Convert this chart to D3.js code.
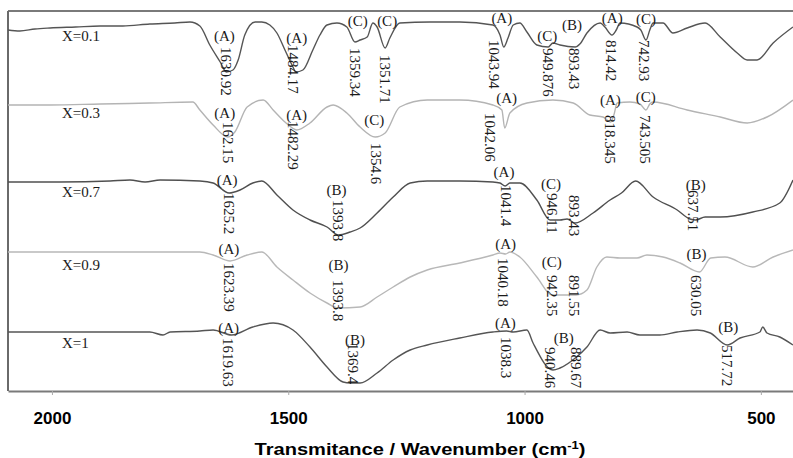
<!DOCTYPE html>
<html>
<head>
<meta charset="utf-8">
<script src="https://cdn.jsdelivr.net/npm/d3@7/dist/d3.min.js"></script>
<style>
  body { margin: 0; background: #fff; }
  svg { display: block; }
</style>
</head>
<body>
<svg id="chart" width="793" height="458"></svg>
<script>
// ---- FTIR spectra, stacked (wavenumber cm-1, transmittance a.u. incl. stacking offset) ----
const seriesNames = ["X=0.1", "X=0.3", "X=0.7", "X=0.9", "X=1"];

const spectrumX01 = [[2093,36.1],[2068,36.0],[2036,36.2],[2004,36.3],[1950,36.4],[1898,36.5],[1850,36.5],[1793,36.7],[1740,36.8],[1708,36.9],[1687,36.5],[1666,34.6],[1644,32.9],[1631,31.9],[1617,32.1],[1606,33.1],[1592,35.6],[1570,36.9],[1556,36.9],[1539,36.6],[1524,35.8],[1507,34.1],[1490,32.4],[1484,31.9],[1469,32.1],[1448,34.1],[1433,35.6],[1418,36.6],[1397,36.8],[1376,36.4],[1359,34.9],[1348,35.1],[1333,35.4],[1321,36.8],[1312,36.4],[1295,34.3],[1285,35.3],[1264,36.8],[1200,36.9],[1137,36.9],[1067,36.6],[1052,35.6],[1044,34.4],[1035,35.3],[1024,36.6],[1010,36.8],[995,35.9],[974,34.6],[950,34.4],[940,34.8],[925,34.6],[893,34.4],[883,34.7],[868,35.8],[840,36.8],[830,36.4],[815,35.6],[806,36.1],[798,36.8],[762,36.4],[754,36.1],[743,35.1],[735,36.1],[728,36.8],[707,36.8],[686,35.8],[656,36.3],[618,36.8],[586,35.4],[550,33.8],[529,33.1],[508,33.1],[474,34.8],[432,36.4]];

const spectrumX03 = [[2093,28.6],[2004,28.6],[1898,28.7],[1793,28.8],[1702,28.9],[1687,28.1],[1659,26.6],[1628,25.4],[1613,25.9],[1587,28.4],[1553,29.1],[1532,28.1],[1507,26.9],[1482,26.1],[1454,26.8],[1418,28.4],[1405,28.6],[1376,27.8],[1348,26.4],[1316,25.4],[1295,25.8],[1264,28.4],[1206,29.1],[1137,29.1],[1067,28.6],[1048,28.1],[1042,26.3],[1031,27.8],[995,28.8],[940,29.1],[897,28.8],[862,27.6],[834,27.4],[818,26.9],[811,27.6],[804,28.8],[777,28.9],[756,28.7],[743,28.1],[735,28.7],[728,28.9],[656,28.1],[586,27.4],[529,26.8],[487,27.4],[432,29.1]];

const spectrumX07 = [[2093,20.9],[1983,20.9],[1877,21.0],[1835,21.1],[1803,20.9],[1771,21.1],[1687,21.0],[1659,20.8],[1625,19.8],[1602,20.1],[1575,20.8],[1556,21.0],[1524,19.6],[1490,18.1],[1454,17.1],[1418,16.4],[1394,15.6],[1369,15.9],[1348,16.3],[1312,17.8],[1278,19.4],[1242,20.8],[1206,21.0],[1137,21.0],[1067,20.9],[1052,20.8],[1041,20.5],[1031,20.8],[1010,20.8],[974,19.1],[946,17.1],[925,17.1],[910,17.2],[893,16.8],[855,17.8],[819,19.1],[795,19.8],[765,21.0],[728,19.4],[677,18.1],[650,17.2],[638,17.1],[618,17.4],[586,17.4],[517,17.9],[460,18.8],[432,21.1]];

const spectrumX09 = [[2093,13.9],[1898,13.9],[1687,13.9],[1659,13.6],[1623,13.0],[1587,13.6],[1556,13.9],[1524,12.4],[1490,11.1],[1454,9.8],[1418,8.8],[1394,8.3],[1348,8.4],[1312,9.4],[1278,10.4],[1242,11.4],[1206,12.1],[1137,12.8],[1067,13.6],[1052,13.8],[1040,13.7],[1031,13.9],[1010,13.4],[974,11.4],[942,9.6],[891,9.6],[868,10.1],[847,12.4],[826,13.4],[798,13.3],[762,13.3],[741,13.6],[707,13.4],[671,12.8],[630,11.9],[606,13.3],[576,13.4],[517,12.4],[474,13.4],[432,14.1]];

const spectrumX1 = [[2093,5.9],[1898,5.9],[1793,5.9],[1765,5.6],[1750,5.9],[1687,6.0],[1659,6.1],[1620,5.6],[1575,6.4],[1532,6.8],[1490,6.1],[1454,4.4],[1418,2.4],[1384,0.9],[1369,0.8],[1348,0.8],[1312,1.8],[1278,3.1],[1242,4.1],[1206,4.6],[1137,5.3],[1067,5.9],[1038,6.0],[1024,5.9],[995,6.1],[982,4.8],[940,2.1],[925,2.3],[890,3.4],[868,4.4],[840,6.1],[819,5.8],[783,5.9],[756,5.6],[714,5.6],[677,5.9],[635,6.1],[607,5.8],[571,4.6],[544,5.3],[502,5.9],[496,6.4],[487,5.8],[460,5.4],[432,4.6]];

const spectra = [spectrumX01, spectrumX03, spectrumX07, spectrumX09, spectrumX1];

// Peak assignments: [wavenumber, printed value, band group]
const peaksX01 = [[1630.92,"1630.92","(A)"],[1484.17,"1484.17","(A)"],[1359.34,"1359.34","(C)"],[1295,"1351.71","(C)"],[1043.94,"1043.94","(A)"],[949.876,"949.876","(C)"],[893.43,"893.43","(B)"],[814.42,"814.42","(A)"],[742.93,"742.93","(C)"]];
const peaksX03 = [[1628,"162.15","(A)"],[1482.29,"1482.29","(A)"],[1316,"1354.6","(C)"],[1042.06,"1042.06","(A)"],[818.345,"818.345","(A)"],[743.505,"743.505","(C)"]];
const peaksX07 = [[1625.2,"1625.2","(A)"],[1393.8,"1393.8","(B)"],[1041.4,"1041.4","(A)"],[946.11,"946.11","(C)"],[893.43,"893.43",""],[637.51,"637.51","(B)"]];
const peaksX09 = [[1623.39,"1623.39","(A)"],[1393.8,"1393.8","(B)"],[1040.18,"1040.18","(A)"],[942.35,"942.35","(C)"],[891.55,"891.55",""],[630.05,"630.05","(B)"]];
const peaksX1 = [[1619.63,"1619.63","(A)"],[1369.4,"1369.4","(B)"],[1038.3,"1038.3","(A)"],[940.46,"940.46",""],[889.67,"889.67","(B)"],[571,"517.72","(B)"]];
const peaks = [peaksX01, peaksX03, peaksX07, peaksX09, peaksX1];

const xTickValues = [2000, 1500, 1000, 500];
const axisTitle = "Transmitance / Wavenumber (cm";

// ---- layout (pixels) ----
// per label: [letter dx, letter centre y, value dx, value top y]
const labelLayout = [
  [[-2,36,0,47],[1,38,-2,45],[3,21,1,48],[2,21,0,55],[-2,18,-10,40],[-1,36,0,48],[-3,25,-1,48],[0,18,-1,40],[0,19,-2,40]],
  [[-3,113,0,122],[0,115,-3,121],[-1,120,1,143],[2,98,-14,113],[0,100,0,115],[0,97,-1,115]],
  [[-2,180,0,193],[-2,190,0,200],[-1,172,1,185],[1,184,2,193],[0,0,-1,195],[0,185,-3,190]],
  [[-1,249,-1,263],[0,265,0,280],[0,244,-2,258],[0,262,0,275],[0,0,-2,275],[-3,254,-3,275]],
  [[-3,328,-3,338],[5,340,3,343],[-1,323,0,337],[0,0,-2,347],[-13,338,0,347],[1,327,0,345]]
];
const nameBaselines = [41, 118, 197, 270, 348];
const lineColors = ["#555", "#b4b4b4", "#505050", "#b8b8b8", "#555"];

const plot = { left: 8, right: 793, top: 11, bottom: 391 };

const svg = d3.select("#chart");

const x = d3.scaleLinear().domain([2093, 432]).range([plot.left, plot.right]);
const y = d3.scaleLinear().domain([0, 38]).range([plot.bottom, plot.top]);

// frame: top and left borders
svg.append("line")
  .attr("x1", plot.left).attr("x2", plot.right)
  .attr("y1", plot.top).attr("y2", plot.top)
  .attr("stroke", "#7a7a7a").attr("stroke-width", 2);
svg.append("line")
  .attr("x1", plot.left).attr("x2", plot.left)
  .attr("y1", plot.top).attr("y2", plot.bottom)
  .attr("stroke", "#6a6a6a").attr("stroke-width", 2);

// spectra
const line = d3.line()
  .x(d => x(d[0]))
  .y(d => y(d[1]))
  .curve(d3.curveMonotoneX);

svg.append("g").selectAll("path")
  .data(spectra)
  .join("path")
  .attr("d", line)
  .attr("fill", "none")
  .attr("stroke", (d, i) => lineColors[i])
  .attr("stroke-width", 1.4)
  .attr("stroke-linejoin", "round");

// series names
svg.append("g").selectAll("text")
  .data(seriesNames)
  .join("text")
  .attr("x", 62)
  .attr("y", (d, i) => nameBaselines[i])
  .attr("font-family", "'Liberation Serif', 'Times New Roman', serif")
  .attr("font-size", 15)
  .attr("fill", "#1a1a1a")
  .text(d => d);

// peak annotations
const serif = "'Liberation Serif', 'Times New Roman', serif";
const annot = svg.append("g");
peaks.forEach((list, si) => {
  list.forEach((p, pi) => {
    const [ldx, ly, ndx, ntop] = labelLayout[si][pi];
    const px = x(p[0]);
    if (p[2]) {
      annot.append("text")
        .attr("x", px + ldx).attr("y", ly)
        .attr("dy", "0.35em")
        .attr("text-anchor", "middle")
        .attr("font-family", serif).attr("font-size", 15)
        .attr("fill", "#1a1a1a")
        .text(p[2]);
    }
    annot.append("text")
      .attr("transform", `translate(${px + ndx},${ntop}) rotate(90)`)
      .attr("dy", "0.35em")
      .attr("font-family", serif).attr("font-size", 15)
      .attr("fill", "#1a1a1a")
      .text(p[1]);
  });
});

// x axis
const xAxis = d3.axisBottom(x)
  .tickValues(xTickValues)
  .tickSize(4)
  .tickSizeOuter(0)
  .tickFormat(d3.format("d"));

const gx = svg.append("g")
  .attr("transform", `translate(0,${plot.bottom})`)
  .call(xAxis);
gx.select(".domain").attr("stroke", "#7a7a7a").attr("stroke-width", 2);
gx.selectAll(".tick line").attr("stroke", "#aaa").attr("stroke-width", 1);
gx.selectAll(".tick text")
  .attr("y", 21)
  .attr("dy", "0.71em")
  .attr("font-family", "'Liberation Sans', Arial, sans-serif")
  .attr("font-weight", "bold")
  .attr("font-size", 17)
  .attr("fill", "#000");

// axis title
const title = svg.append("text")
  .attr("x", 420).attr("y", 455)
  .attr("text-anchor", "middle")
  .attr("font-family", "'Liberation Sans', Arial, sans-serif")
  .attr("font-weight", "bold")
  .attr("font-size", 17)
  .attr("fill", "#000")
  .attr("textLength", 331)
  .attr("lengthAdjust", "spacingAndGlyphs");
title.append("tspan").text(axisTitle);
title.append("tspan").attr("font-size", 11).attr("dy", -6).text("-1");
title.append("tspan").attr("dy", 6).text(")");
</script>
</body>
</html>
